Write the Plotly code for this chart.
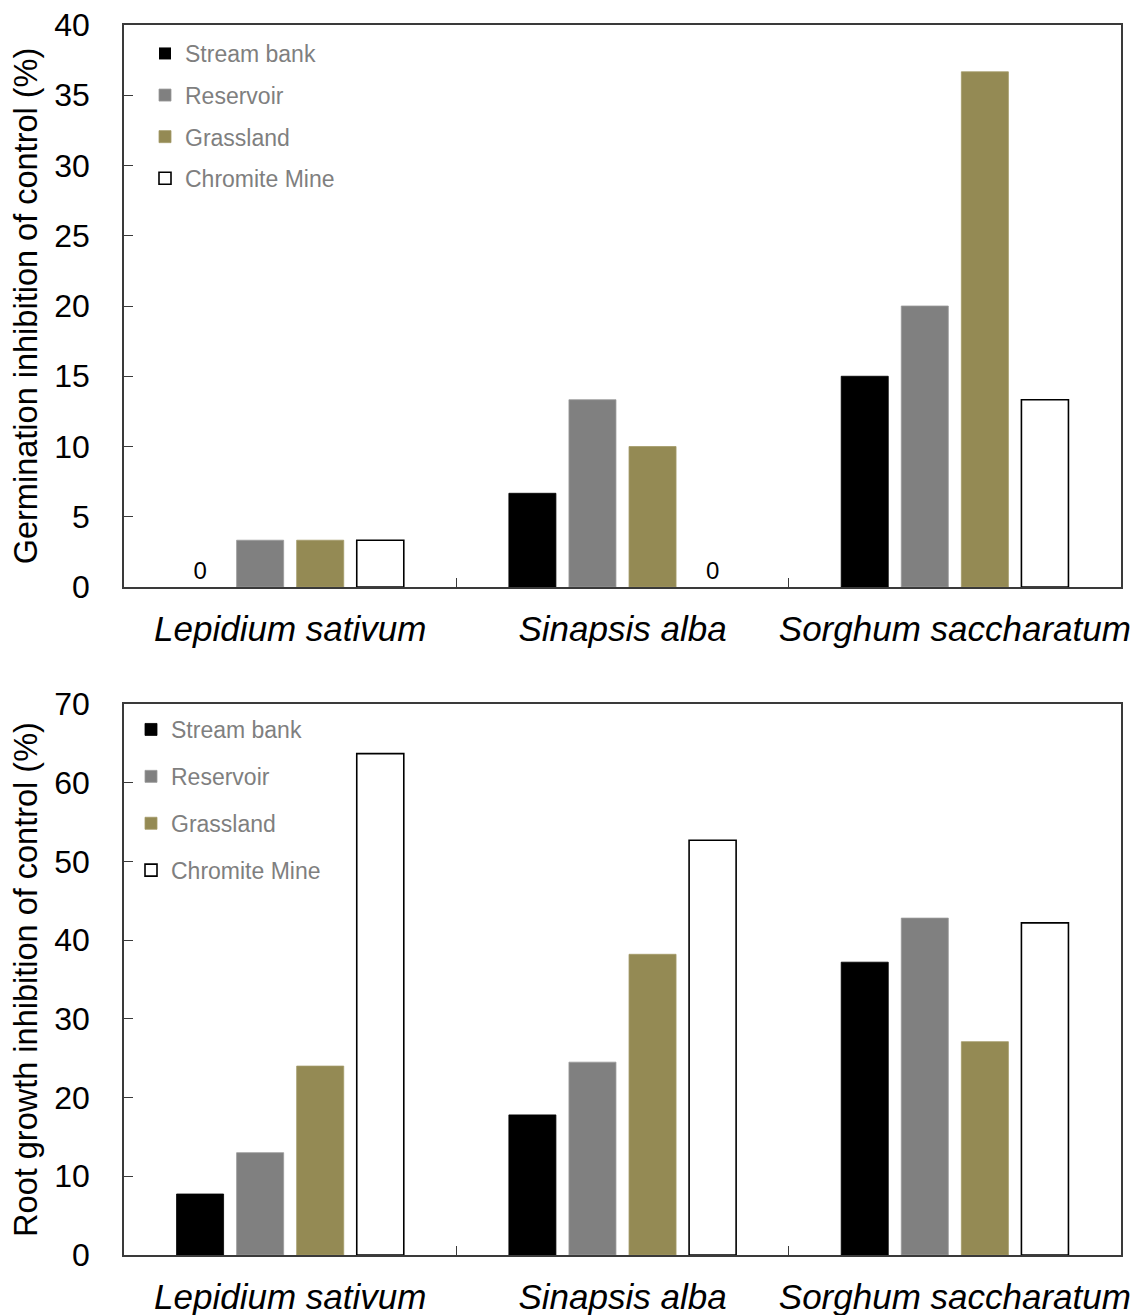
import plotly.graph_objects as go

species = ["Lepidium sativum", "Sinapsis alba", "Sorghum saccharatum"]
sites = ["Stream bank", "Reservoir", "Grassland", "Chromite Mine"]

germination = {
    "Stream bank": [0, 6.67, 15.0],
    "Reservoir": [3.33, 13.33, 20.0],
    "Grassland": [3.33, 10.0, 36.67],
    "Chromite Mine": [3.33, 0, 13.33],
}
root_growth = {
    "Stream bank": [7.75, 17.8, 37.2],
    "Reservoir": [13.0, 24.5, 42.8],
    "Grassland": [24.0, 38.2, 27.1],
    "Chromite Mine": [63.7, 52.7, 42.2],
}
germ_ticks = [0, 5, 10, 15, 20, 25, 30, 35, 40]
root_ticks = [0, 10, 20, 30, 40, 50, 60, 70]

fill = {"Stream bank": "#000000", "Reservoir": "#808080",
        "Grassland": "#948a54", "Chromite Mine": "#ffffff"}
edge = {"Stream bank": "#000000", "Reservoir": "#9a9a9a",
        "Grassland": "#a39a68", "Chromite Mine": "#000000"}
edge_w = {"Stream bank": 0.8, "Reservoir": 0.8, "Grassland": 0.8, "Chromite Mine": 1.6}

# page body has an 8px margin; the figure is sized to fit inside it
OFF = 8
W, H = 1147 - OFF, 1315 - OFF
FONT = "Liberation Sans, Arial, sans-serif"

fig = go.Figure()

for data, xa, ya, leg, show_zero in [
    (germination, "x", "y", "legend", True),
    (root_growth, "x2", "y2", "legend2", False),
]:
    for s in sites:
        vals = data[s]
        txt = ["0" if (show_zero and v == 0) else "" for v in vals]
        widths = [0 if v == 0 else edge_w[s] for v in vals]
        fig.add_trace(go.Bar(
            x=species, y=vals, name=s, xaxis=xa, yaxis=ya, legend=leg,
            legendgroup=s + leg,
            marker=dict(color=fill[s], line=dict(color=edge[s], width=widths)),
            text=txt, textposition="outside", cliponaxis=False,
            textfont=dict(family=FONT, size=24, color="#000000"),
        ))

def px_x(p):
    return (p - OFF) / W

def px_y(p):
    return 1 - (p - OFF) / H

xdom = [px_x(124), px_x(1121)]
axis_common = dict(
    showline=True, mirror=True, linecolor="#3a3a3a", linewidth=1.5,
    showgrid=False, zeroline=False, automargin=False,
    ticklabeloverflow="allow",
)
xcommon = dict(type="category", categoryarray=species,
               ticks="inside", tickson="boundaries", ticklen=9, tickcolor="#3a3a3a",
               tickangle=0, tickfont=dict(size=35, style="italic"),
               ticklabelstandoff=10, **axis_common)
ycommon = dict(ticks="inside", ticklen=9, tickcolor="#3a3a3a",
               tickfont=dict(size=32), ticklabelstandoff=26, **axis_common)

fig.update_layout(
    width=W, height=H,
    margin=dict(l=0, r=0, t=0, b=0),
    paper_bgcolor="white", plot_bgcolor="white",
    barmode="group", bargap=0.277, bargroupgap=0.217,
    font=dict(family=FONT, color="#000000"),
    xaxis=dict(domain=xdom, anchor="y", **xcommon),
    yaxis=dict(domain=[px_y(587), px_y(25)], anchor="x", range=[0, 40],
               tickvals=germ_ticks,
               title=dict(text="Germination inhibition of control (%)",
                          font=dict(size=32.5), standoff=7),
               **ycommon),
    xaxis2=dict(domain=xdom, anchor="y2", **xcommon),
    yaxis2=dict(domain=[px_y(1255), px_y(704)], anchor="x2", range=[0, 70],
                tickvals=root_ticks,
                title=dict(text="Root growth inhibition of control (%)",
                           font=dict(size=32.5), standoff=7),
                **ycommon),
    legend=dict(x=px_x(145), y=px_y(32), xanchor="left", yanchor="top",
                bgcolor="rgba(0,0,0,0)", tracegroupgap=8.7,
                font=dict(size=23, color="#7f7f7f")),
    legend2=dict(x=px_x(131), y=px_y(708), xanchor="left", yanchor="top",
                 bgcolor="rgba(0,0,0,0)", tracegroupgap=14,
                 font=dict(size=23, color="#7f7f7f")),
)

fig.write_html("out.html")
